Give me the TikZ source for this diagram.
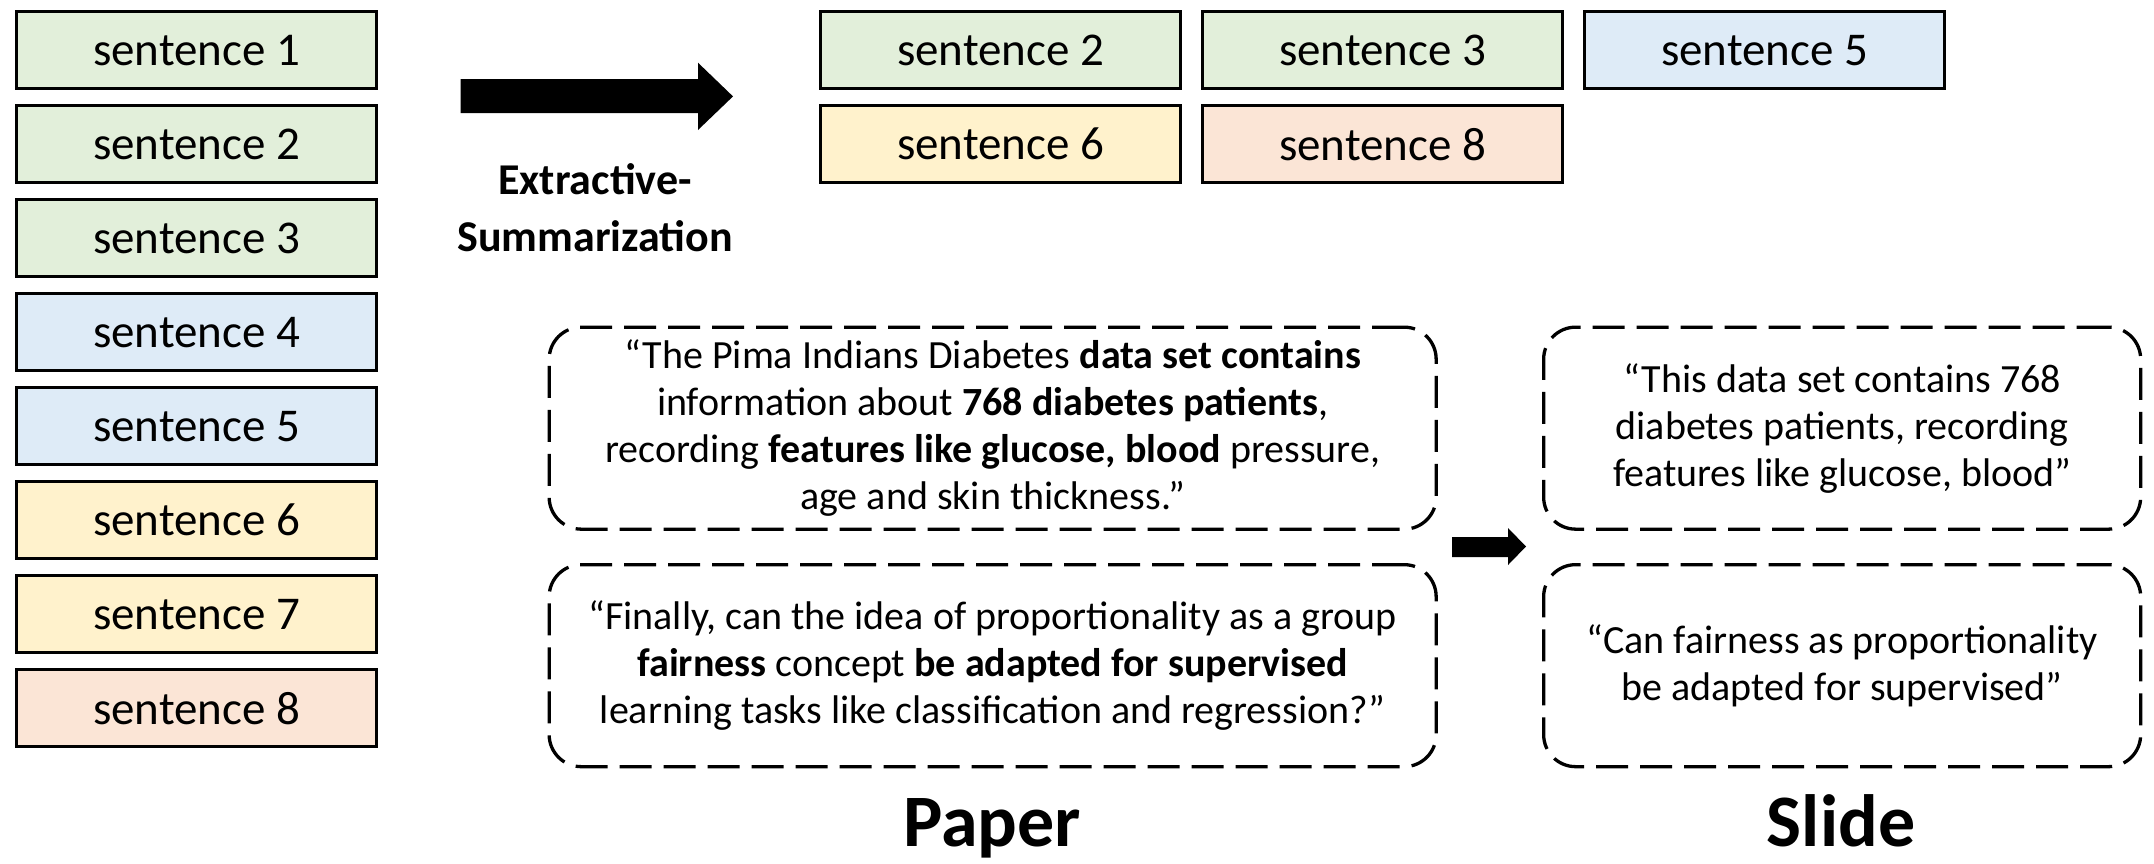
\documentclass[tikz,border=0pt]{standalone}
\usepackage{fontspec}
\setmainfont{Carlito}
\definecolor{cgreen}{HTML}{E2EFDA}
\definecolor{cblue}{HTML}{DEEBF7}
\definecolor{cyellow}{HTML}{FFF2CC}
\definecolor{cpeach}{HTML}{FBE5D6}
\begin{document}
\begin{tikzpicture}[x=1pt,y=-1pt,
  sent/.style={draw=black, line width=3.3pt, minimum width=360pt, minimum height=77pt,
    inner sep=0pt, anchor=north west, font=\fontsize{47}{56}\selectfont},
  quotebox/.style={draw=black, line width=3.3pt, dash pattern=on 32pt off 12pt,
    rounded corners=32pt, inner sep=0pt, anchor=north west, align=center,
    font=\fontsize{40}{47}\selectfont},
  blockarrow/.style={fill=black},
  biglabel/.style={font=\bfseries\fontsize{74}{80}\selectfont, anchor=base}
]
\useasboundingbox (0,0) rectangle (2154,863);

% left column
\node[sent, fill=cgreen]  (s1) at (15,10)  {sentence 1};
\node[sent, fill=cgreen]  (s2) at (15,104) {sentence 2};
\node[sent, fill=cgreen]  (s3) at (15,198) {sentence 3};
\node[sent, fill=cblue]   (s4) at (15,292) {sentence 4};
\node[sent, fill=cblue]   (s5) at (15,386) {sentence 5};
\node[sent, fill=cyellow] (s6) at (15,480) {sentence 6};
\node[sent, fill=cyellow] (s7) at (15,574) {sentence 7};
\node[sent, fill=cpeach]  (s8) at (15,668) {sentence 8};

% summary
\node[sent, fill=cgreen]  (t2) at (819,10)  {sentence 2};
\node[sent, fill=cgreen]  (t3) at (1201,10) {sentence 3};
\node[sent, fill=cblue]   (t5) at (1583,10) {sentence 5};
\node[sent, fill=cyellow] (t6) at (819,104) {sentence 6};
\node[sent, fill=cpeach]  (t8) at (1201,104) {sentence 8};

% big arrow
\fill[blockarrow] (460.7,79) -- (698,79) -- (698,62.7) -- (733,96.4) -- (698,130) -- (698,113) -- (460.7,113) -- cycle;
\node[align=center, font=\bfseries\fontsize{44}{57}\selectfont] (lab) at (595,208) {Extractive-\\Summarization};

% paper quotes
\node[quotebox, minimum width=887pt, minimum height=202pt] (p1) at (547.5,325.5)
  {“The Pima Indians Diabetes \textbf{data set contains}\\
   information about \textbf{768 diabetes patients},\\
   recording \textbf{features like glucose, blood} pressure,\\
   age and skin thickness.”};
\node[quotebox, minimum width=887pt, minimum height=202pt] (p2) at (547.5,563)
  {“Finally, can the idea of proportionality as a group\\
   \textbf{fairness} concept \textbf{be adapted for supervised}\\
   learning tasks like classification and regression?”};

% slide quotes
\node[quotebox, minimum width=597pt, minimum height=202pt] (q1) at (1542,325.5)
  {“This data set contains 768\\
   diabetes patients, recording\\
   features like glucose, blood”};
\node[quotebox, minimum width=597pt, minimum height=202pt] (q2) at (1542,563)
  {“Can fairness as proportionality\\
   be adapted for supervised”};

% small arrow
\fill[blockarrow] (1452,537) -- (1508,537) -- (1508,528) -- (1526,546.5) -- (1508,565) -- (1508,557) -- (1452,557) -- cycle;

\node[biglabel] (paper) at (992,846) {Paper};
\node[biglabel] (slide) at (1841,846) {Slide};
\end{tikzpicture}
\end{document}
